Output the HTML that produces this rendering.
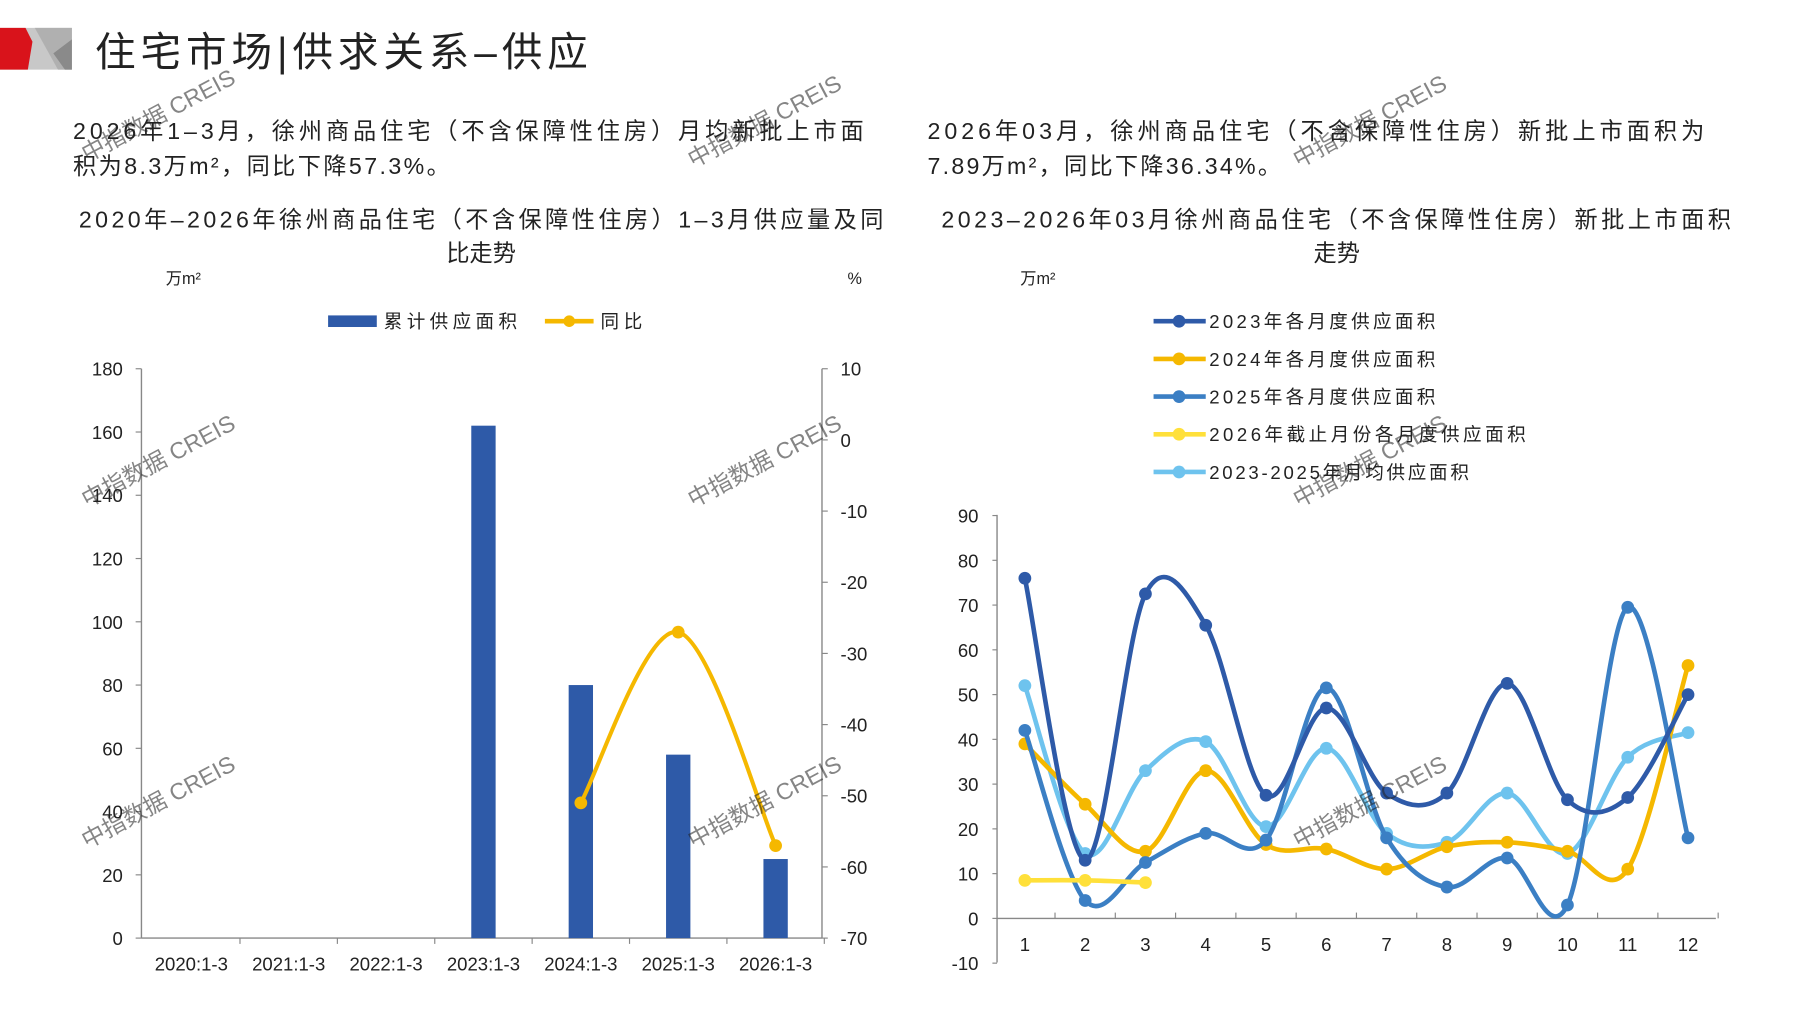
<!DOCTYPE html>
<html><head><meta charset="utf-8">
<style>
html,body{margin:0;padding:0;background:#fff;}
svg{display:block;}
text{font-family:"Liberation Sans","Noto Sans CJK SC",sans-serif;fill:#222;}
</style></head>
<body>
<svg id="s" width="1797" height="1010" viewBox="0 0 1550 871" preserveAspectRatio="none" xmlns="http://www.w3.org/2000/svg">
<polygon points="0,24 55,24 62,24 62,60 0,60" fill="#c8c8c8"/>
<polygon points="30,24 62,24 62,60 50,60" fill="#b0b0b0"/>
<polygon points="46,46 62,34 62,60 56,60" fill="#8a8a8a"/>
<polygon points="0,24 22,24 28,36 24,60 0,60" fill="#d9131b"/>
<text x="82" y="57" font-size="35" textLength="425" lengthAdjust="spacing">住宅市场|供求关系–供应</text>

<text x="63" y="120" font-size="20" textLength="682" lengthAdjust="spacing">2026年1–3月，徐州商品住宅（不含保障性住房）月均新批上市面</text>
<text x="63" y="150" font-size="20" textLength="325" lengthAdjust="spacing">积为8.3万m²，同比下降57.3%。</text>
<text x="800" y="120" font-size="20" textLength="670" lengthAdjust="spacing">2026年03月，徐州商品住宅（不含保障性住房）新批上市面积为</text>
<text x="800" y="150" font-size="20" textLength="305" lengthAdjust="spacing">7.89万m²，同比下降36.34%。</text>

<text x="68" y="196" font-size="20" textLength="694" lengthAdjust="spacing">2020年–2026年徐州商品住宅（不含保障性住房）1–3月供应量及同</text>
<text x="415" y="225" font-size="20" text-anchor="middle">比走势</text>
<text x="812" y="196" font-size="20" textLength="681" lengthAdjust="spacing">2023–2026年03月徐州商品住宅（不含保障性住房）新批上市面积</text>
<text x="1153" y="225" font-size="20" text-anchor="middle">走势</text>

<text x="143" y="245" font-size="14">万m²</text>
<text x="731" y="245" font-size="14">%</text>
<text x="880" y="245" font-size="14">万m²</text>

<rect x="283" y="272" width="42" height="10" fill="#2E5AA8"/>
<text x="331" y="283" font-size="16" textLength="115" lengthAdjust="spacing">累计供应面积</text>
<line x1="470" y1="277" x2="512" y2="277" stroke="#F5B800" stroke-width="4"/>
<circle cx="491" cy="277" r="5" fill="#F5B800"/>
<text x="518" y="283" font-size="16" textLength="36" lengthAdjust="spacing">同比</text>

<g id="left"></g>
<g id="right"></g>
<g id="leg"></g>

<g fill="#bbb" opacity="0.55" font-size="20">
<text transform="translate(75,140) rotate(-28)">中指数据 CREIS</text>
<text transform="translate(598,145) rotate(-28)">中指数据 CREIS</text>
<text transform="translate(1120,145) rotate(-28)">中指数据 CREIS</text>
<text transform="translate(75,438) rotate(-28)">中指数据 CREIS</text>
<text transform="translate(598,438) rotate(-28)">中指数据 CREIS</text>
<text transform="translate(1120,438) rotate(-28)">中指数据 CREIS</text>
<text transform="translate(75,732) rotate(-28)">中指数据 CREIS</text>
<text transform="translate(598,732) rotate(-28)">中指数据 CREIS</text>
<text transform="translate(1120,732) rotate(-28)">中指数据 CREIS</text>
</g>
</svg>
<script>
var NS="http://www.w3.org/2000/svg";
function el(p,t,a,txt){var e=document.createElementNS(NS,t);for(var k in a)e.setAttribute(k,a[k]);if(txt!=null)e.textContent=txt;p.appendChild(e);return e;}
function smooth(pts){var d="M"+pts[0][0]+","+pts[0][1];for(var i=0;i<pts.length-1;i++){var p0=pts[i-1]||pts[i],p1=pts[i],p2=pts[i+1],p3=pts[i+2]||p2;var t=1/6;
d+=" C"+(p1[0]+(p2[0]-p0[0])*t)+","+(p1[1]+(p2[1]-p0[1])*t)+" "+(p2[0]-(p3[0]-p1[0])*t)+","+(p2[1]-(p3[1]-p1[1])*t)+" "+p2[0]+","+p2[1];}return d;}
var L=document.getElementById("left");
el(L,"line",{x1:122,y1:318,x2:122,y2:809,stroke:"#888","stroke-width":1.2});
el(L,"line",{x1:709,y1:318,x2:709,y2:809,stroke:"#888","stroke-width":1.2});
el(L,"line",{x1:122,y1:809,x2:709,y2:809,stroke:"#888","stroke-width":1.2});
for(var i=0;i<=9;i++){var v=i*20,y=809-v/180*491;el(L,"line",{x1:117,y1:y,x2:122,y2:y,stroke:"#888"});el(L,"text",{x:106,y:y+6,"font-size":16,"text-anchor":"end"},v);}
for(var i=0;i<=8;i++){var v=10-i*10,y=318+i*491/8;el(L,"line",{x1:709,y1:y,x2:714,y2:y,stroke:"#888"});el(L,"text",{x:725,y:y+6,"font-size":16},v);}
var cats=["2020:1-3","2021:1-3","2022:1-3","2023:1-3","2024:1-3","2025:1-3","2026:1-3"];
for(var i=0;i<7;i++){var cx=165+i*84;el(L,"text",{x:cx,y:837,"font-size":16,"text-anchor":"middle"},cats[i]);el(L,"line",{x1:cx+42,y1:809,x2:cx+42,y2:814,stroke:"#888"});}
var bars=[[3,162],[4,80],[5,58],[6,25]];
bars.forEach(function(b){var cx=165+b[0]*84,y=809-b[1]/180*491;el(L,"rect",{x:cx-10.5,y:y,width:21,height:809-y,fill:"#2E5AA8"});});
var yp=[[501,-51],[585,-27],[669,-57]].map(function(p){return [p[0],318+(10-p[1])/80*491];});
el(L,"path",{d:smooth(yp),fill:"none",stroke:"#F5B800","stroke-width":3.5});
yp.forEach(function(p){el(L,"circle",{cx:p[0],cy:p[1],r:5.5,fill:"#F5B800"});});
var R=document.getElementById("right");
function Y(v){return 792-v*3.86;}
el(R,"line",{x1:860,y1:444,x2:860,y2:830,stroke:"#888","stroke-width":1.2});
el(R,"line",{x1:860,y1:792,x2:1480,y2:792,stroke:"#888","stroke-width":1.2});
for(var v=-10;v<=90;v+=10){var y=Y(v);el(R,"line",{x1:856,y1:y,x2:860,y2:y,stroke:"#888"});el(R,"text",{x:844,y:y+6,"font-size":16,"text-anchor":"end"},v);}
for(var i=0;i<12;i++){var cx=884+i*52;el(R,"text",{x:cx,y:820,"font-size":16,"text-anchor":"middle"},i+1);el(R,"line",{x1:cx+26,y1:787,x2:cx+26,y2:792,stroke:"#888"});}
var S=[
["#6EC3EE",[52,14.5,33,39.5,20.5,38,19,17,28,14.5,36,41.5]],
["#F5B800",[39,25.5,15,33,16.5,15.5,11,16,17,15,11,56.5]],
["#3B7FC4",[42,4,12.5,19,17.5,51.5,18,7,13.5,3,69.5,18]],
["#2E5AA8",[76,13,72.5,65.5,27.5,47,28,28,52.5,26.5,27,50]],
["#FFE03A",[8.5,8.5,8]]];
S.forEach(function(s){var pts=s[1].map(function(v,i){return [884+i*52,Y(v)];});
el(R,"path",{d:smooth(pts),fill:"none",stroke:s[0],"stroke-width":4});
pts.forEach(function(p){el(R,"circle",{cx:p[0],cy:p[1],r:5.5,fill:s[0]});});});
var G=document.getElementById("leg");
var lg=[["#2E5AA8","2023年各月度供应面积",195],["#F5B800","2024年各月度供应面积",195],["#3B7FC4","2025年各月度供应面积",195],["#FFE03A","2026年截止月份各月度供应面积",273],["#6EC3EE","2023-2025年月均供应面积",224]];
lg.forEach(function(l,i){var y=277+i*32.5;el(G,"line",{x1:995,y1:y,x2:1040,y2:y,stroke:l[0],"stroke-width":4});el(G,"circle",{cx:1017,cy:y,r:5.5,fill:l[0]});el(G,"text",{x:1043,y:y+6,"font-size":16,textLength:l[2],lengthAdjust:"spacing"},l[1]);});
</script>
</body></html>
